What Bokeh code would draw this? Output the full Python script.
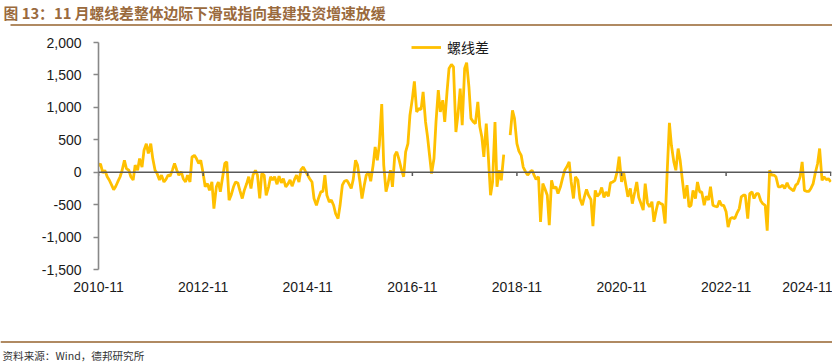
import numpy as np
import pandas as pd
from bokeh.plotting import figure
from bokeh.layouts import column
from bokeh.core.properties import value
from bokeh.models import (Range1d, FixedTicker, DatetimeTickFormatter, NumeralTickFormatter,
                          Span, Legend, LegendItem, ColumnDataSource)
from bokeh.embed import file_html
from bokeh.resources import INLINE

# ---------------- data (semi-monthly, from 2010-11) ----------------
start_date = "2010-11-01"
series_name = "螺线差"
values = [
    100, 130, -10, 30, -70, -120, -200, -270, -220, -150,
    -70, 30, 185, 55, 30, -70, -120, 110, 30, 210,
    80, 340, 440, 290, 440, 210, 30, -20, -120, -45,
    -150, -110, -45, -60, 40, 135, 30, -45, 5, -100,
    -150, -45, -150, 235, 260, 210, 135, 185, -20, -225,
    -175, -280, -150, -560, -225, -150, -300,
    -100, 135, 160, -430, -355, -225, -150, -165, -280, -405,
    -280, -175, -70, -250, -45, 30, -45, -405, -20, -45,
    -355, -225, -70, -120, -70, -185, -60, -165, -100, -225,
    -185, -120, -215, -110, -45, -150, 40, 80, 20, -45,
    -100, -150, -405, -510, -405, -300, -300, -45, -355, -460,
    -430, -510, -640, -715, -510, -200,
    -140, -125, -175, -250, -110, 185, 110, -150, -405, -200,
    -45, 0, -140, 110, 390, 185, 415, 1050, 110, -300,
    -175, 30, -225, 260, 315, 185, 55, -70, 315, 440,
    880, 1135, 1400, 930, 980, 970, 1240, 775, 545, 260,
    -20, 210, 775, 1265, 930, 1110, 775, 1240, 1600, 1660,
    1625, 620, 880, 1290, 725, 1600,
    1690, 1315, 830, 775, 750, 1085, 700, 545, 235, 750,
    260, -355, -150, 775, -225, 30, -125, 270, None, None,
    570, 955, 830, 440, 325, 260, 80, 5, -45, 5,
    30, -45, -110, -70, -765, -175, -250, -355, -815, -125,
    -250, -225, -330, -225, -100, 30, 80, 160, -150, -405,
    -70, -125, -405, -510, -380, -265,
    -355, -420, -830, -280, -370, -330, -235, -390, -305, -370,
    -165, -150, -125, 5, 240, -150, 5, -200, -380, -250,
    -485, -305, -150, -390, -475, -585, -175, -475, -535, -455,
    -765, -585, -455, -485, -495, -790, -20, 760, 415, 160,
    30, 365, 185, -150, -405, -200, -535, -510, -280, -405,
    -150, -305, -305, -510, -370, -430,
    -225, -510, -525, -535, -440, -510, -510, -610, -845, -715,
    -700, -715, -635, -560, -380, -355, -355, -715, -330, -305,
    -405, -330, -330, -440, -485, -510, -900, 30, -45, -45,
    -70, -225, -225, -200, -250, -165, -235, -265, -290, -200,
    -175, -70, 160, -280, -295, -295, -250, -175, -20, 135,
    365, -125, -70, -115, -100, -150,
]
x_tick_labels = ["2010-11", "2012-11", "2014-11", "2016-11", "2018-11", "2020-11", "2022-11", "2024-11"]
y_ticks = [-1500, -1000, -500, 0, 500, 1000, 1500, 2000]

title_text = "图 13：11 月螺线差整体边际下滑或指向基建投资增速放缓"
source_text = "资料来源：Wind，德邦研究所"

W = 832
TOP_H, MAIN_H, BOT_H = 32, 298, 32
TITLE_COLOR = "#9A6A3D"
RULE_COLOR = "#B08A62"
LINE_COLOR = "#FFC000"


def no_align(f):
    if "frame_align" in f.properties():
        f.frame_align = False


def strip_fig(h):
    f = figure(width=W, height=h, output_backend="svg", toolbar_location=None,
               x_range=Range1d(0, W), y_range=Range1d(h, 0),
               x_axis_location=None, y_axis_location=None,
               min_border=0, min_border_left=0, min_border_right=0,
               min_border_top=0, min_border_bottom=0)
    f.outline_line_color = None
    f.grid.visible = False
    f.background_fill_color = "white"
    f.border_fill_color = "white"
    no_align(f)
    return f


# ---------------- title strip ----------------
top = strip_fig(TOP_H)
top.text(x=[3], y=[12], text=[title_text], text_font=value("Noto Sans CJK SC"),
         text_font_size="14.8px", text_font_style="bold", text_color=TITLE_COLOR,
         text_baseline="middle", text_align="left")
top.line(x=[10, W], y=[24.5, 24.5], line_color=RULE_COLOR, line_width=2)

# ---------------- main chart ----------------
dates = pd.date_range(start_date, periods=len(values), freq="SMS")
vals = np.array([np.nan if v is None else v for v in values], dtype=float)
src = ColumnDataSource(dict(date=dates, v=vals))

tick_dates = pd.to_datetime(x_tick_labels, format="%Y-%m")
tick_ms = [int(t.value // 10**6) for t in tick_dates]

y_top = y_ticks[-1] + 8 * (y_ticks[-1] - y_ticks[0]) / 227.0
p = figure(width=W, height=MAIN_H, output_backend="svg", toolbar_location=None,
           x_axis_type="datetime",
           x_range=Range1d(tick_dates[0], tick_dates[-1] + pd.Timedelta(days=5)),
           y_range=Range1d(y_ticks[0], y_top),
           min_border_left=98, min_border_right=1, min_border_top=2, min_border_bottom=61)
p.outline_line_color = None
p.grid.visible = False
p.background_fill_color = "white"
p.border_fill_color = "white"
no_align(p)

r = p.line("date", "v", source=src, line_color=LINE_COLOR, line_width=2.8)

xa = p.xaxis[0]
xa.ticker = FixedTicker(ticks=tick_ms)
xa.formatter = DatetimeTickFormatter(days="%Y-%m", months="%Y-%m", years="%Y-%m")
xa.axis_line_color = None
xa.major_tick_line_color = None
xa.minor_tick_line_color = None
xa.major_label_text_font = "Liberation Sans"
xa.major_label_text_font_size = "14px"
xa.major_label_text_color = "#1a1a1a"
xa.major_label_standoff = 6

ya = p.yaxis[0]
ya.ticker = FixedTicker(ticks=y_ticks)
ya.bounds = (y_ticks[0], y_ticks[-1])
ya.formatter = NumeralTickFormatter(format="0,0")
ya.axis_line_color = "#888888"
ya.axis_line_width = 1.6
ya.major_tick_line_color = "#888888"
ya.major_tick_line_width = 1.4
ya.major_tick_out = 5
ya.major_tick_in = 0
ya.minor_tick_line_color = None
ya.major_label_text_font = "Liberation Sans"
ya.major_label_text_font_size = "14px"
ya.major_label_text_color = "#1a1a1a"
ya.major_label_standoff = 12

# horizontal axis crossing at 0, with its tick marks
p.add_layout(Span(location=0, dimension="width", line_color="#595959", line_width=1.5))
p.segment(x0=tick_dates, y0=[0] * len(tick_dates), x1=tick_dates, y1=[-60] * len(tick_dates),
          line_color="#595959", line_width=1.5)

legend = Legend(items=[LegendItem(label=series_name, renderers=[r])], location=(313, 212),
                padding=0, margin=0, border_line_color=None, background_fill_alpha=0,
                glyph_width=30, glyph_height=20, label_height=20, label_standoff=6,
                label_text_font="Noto Sans CJK SC", label_text_font_size="14px",
                label_text_color="#1a1a1a")
p.add_layout(legend)

# ---------------- source strip ----------------
bot = strip_fig(BOT_H)
bot.line(x=[0, W], y=[11.5, 11.5], line_color=RULE_COLOR, line_width=2)
bot.text(x=[2], y=[25], text=[source_text], text_font=value("Noto Sans CJK SC"),
         text_font_size="10.6px", text_color="#333333",
         text_baseline="middle", text_align="left")

layout = column(top, p, bot, spacing=0)
open("out.html", "w").write(file_html(layout, INLINE))
